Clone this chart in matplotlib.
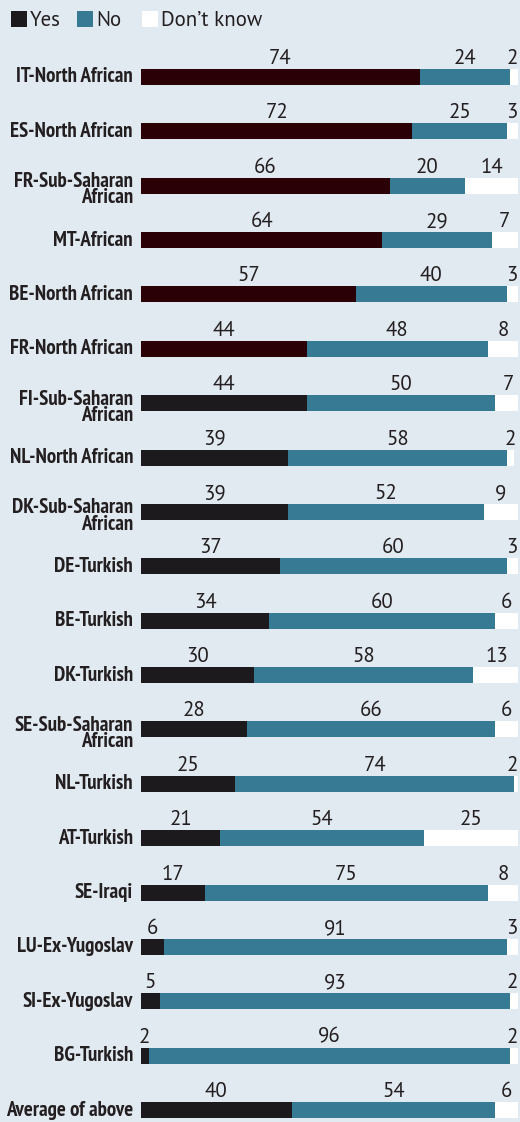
import matplotlib
matplotlib.use("Agg")
import logging
logging.getLogger("matplotlib.font_manager").setLevel(logging.ERROR)
import matplotlib.pyplot as plt
from matplotlib.patches import Rectangle

categories = ["IT-North African", "ES-North African", "FR-Sub-Saharan\nAfrican", "MT-African",
              "BE-North African", "FR-North African", "FI-Sub-Saharan\nAfrican", "NL-North African",
              "DK-Sub-Saharan\nAfrican", "DE-Turkish", "BE-Turkish", "DK-Turkish",
              "SE-Sub-Saharan\nAfrican", "NL-Turkish", "AT-Turkish", "SE-Iraqi",
              "LU-Ex-Yugoslav", "SI-Ex-Yugoslav", "BG-Turkish", "Average of above"]
yes = [74, 72, 66, 64, 57, 44, 44, 39, 39, 37, 34, 30, 28, 25, 21, 17, 6, 5, 2, 40]
no = [24, 25, 20, 29, 40, 48, 50, 58, 52, 60, 60, 58, 66, 74, 54, 75, 91, 93, 96, 54]
dont_know = [2, 3, 14, 7, 3, 8, 7, 2, 9, 3, 6, 13, 6, 2, 25, 8, 3, 2, 2, 6]
highlighted = 6  # first rows drawn in dark red
legend_labels = ["Yes", "No", "Don\u2019t know"]

BG = "#e1e9f1"
RED = "#2a0006"
BLACK = "#1c1a1d"
TEAL = "#377a94"
WHITE = "#ffffff"
TXT = "#231f20"

NARROW = ["PT Sans Narrow", "Roboto Condensed", "Fira Sans Condensed", "Archivo Narrow", "DejaVu Sans"]
REGULAR = ["PT Sans", "Open Sans", "DejaVu Sans"]

W, H = 520, 1122
fig = plt.figure(figsize=(W / 100, H / 100), dpi=100, facecolor=BG)

x0, x1 = 141, 518
ax = fig.add_axes([x0 / W, 0, (x1 - x0) / W, 1])
ax.set_facecolor(BG)
ax.set_axis_off()

n = len(categories)
first_c, last_c = 77, 1110
step = (last_c - first_c) / (n - 1)
ytop = -first_c / step
ybot = (H - first_c) / step
ax.set_ylim(ybot, ytop)
ax.set_xlim(0, 100)
bh = 16 / step

label_font = dict(family=NARROW, fontweight="bold", fontsize=15, color=TXT)
num_font = dict(family=REGULAR, fontsize=15, color=TXT)

for i in range(n):
    yc = yes[i]
    nc = no[i]
    dc = dont_know[i]
    ycol = RED if i < highlighted else BLACK
    ax.barh(i, yc, left=0, height=bh, color=ycol, edgecolor="none")
    ax.barh(i, nc, left=yc, height=bh, color=TEAL, edgecolor="none")
    ax.barh(i, dc, left=yc + nc, height=bh, color=WHITE, edgecolor="none")
    ty = i - bh / 2 - 5 / step
    ax.text(yc / 2, ty, str(yc), ha="center", va="baseline", **num_font)
    ax.text(yc + nc / 2, ty, str(nc), ha="center", va="baseline", **num_font)
    dx = min(yc + nc + dc / 2, 98.4)
    ax.text(dx, ty, str(dc), ha="center", va="baseline", **num_font)
    lab = categories[i]
    off = 4 / step if "\n" in lab else 0.0
    ax.text(-8 / (x1 - x0) * 100, i + off, lab, ha="right", va="center", linespacing=0.82,
            clip_on=False, **label_font)

# legend
ly = 19
sq = 16
items_x = [11, 77, 142]
for (lx, lab, col) in zip(items_x, legend_labels, [BLACK, TEAL, WHITE]):
    fig.patches.append(Rectangle((lx / W, 1 - (ly + sq / 2) / H), sq / W, sq / H,
                                 transform=fig.transFigure, facecolor=col, edgecolor="none"))
    fig.text((lx + sq + 3) / W, 1 - (ly + 1) / H, lab, ha="left", va="center",
             family=REGULAR, fontsize=15, color=TXT)

fig.savefig("out.png", dpi=100, facecolor=BG)
